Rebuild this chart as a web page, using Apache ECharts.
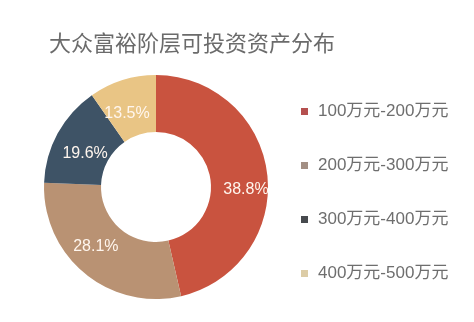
<!DOCTYPE html>
<html>
<head>
<meta charset="utf-8">
<script src="https://cdn.jsdelivr.net/npm/echarts@6/dist/echarts.min.js"></script>
<style>html,body{margin:0;padding:0;background:#fff}#c{width:474px;height:322px}</style>
</head>
<body>
<div id="c"></div>
<script>
var title = '大众富裕阶层可投资资产分布';
var categories = ['100万元-200万元', '200万元-300万元', '300万元-400万元', '400万元-500万元'];
// slice sizes as drawn in the picture (angular share)
var sliceShares = [46.4, 29.2, 14.7, 9.7];
// label texts as printed on the slices
var labelTexts = ['38.8%', '28.1%', '19.6%', '13.5%'];
var sliceColors = ['#c9533f', '#b99273', '#3e5366', '#e9c585'];
var legendColors = ['#b5504f', '#a38f84', '#474a4e', '#dccca6'];
var labelShift = [[4, 12], [-5, -7], [5, 8], [-3, 9]];

var chart = echarts.init(document.getElementById('c'));
var font = '"Liberation Sans", "Noto Sans CJK SC", sans-serif';
chart.setOption({
  animation: false,
  title: {
    text: title, left: 44, top: 29,
    textStyle: {fontFamily: font, fontSize: 22, fontWeight: 'normal', color: '#6b6b6b'}
  },
  legend: {
    orient: 'vertical', left: 296, top: 96,
    itemWidth: 7, itemHeight: 7, itemGap: 33, icon: 'rect',
    textStyle: {fontFamily: font, fontSize: 17, color: '#6e6e6e', lineHeight: 21, padding: [0, 0, 0, 5]},
    data: categories.map(function (c, i) { return {name: c, itemStyle: {color: legendColors[i]}}; })
  },
  series: [{
    type: 'pie',
    center: [156, 187],
    radius: [55, 112],
    startAngle: 90,
    clockwise: true,
    label: {
      position: 'inside', color: '#fff6ee', fontFamily: font, fontSize: 16,
      formatter: function (p) { return labelTexts[p.dataIndex]; }
    },
    labelLine: {show: false},
    emphasis: {disabled: true},
    data: categories.map(function (c, i) {
      return {name: c, value: sliceShares[i], itemStyle: {color: sliceColors[i]},
        label: {offset: labelShift[i]}};
    })
  }]
});
</script>
</body>
</html>
